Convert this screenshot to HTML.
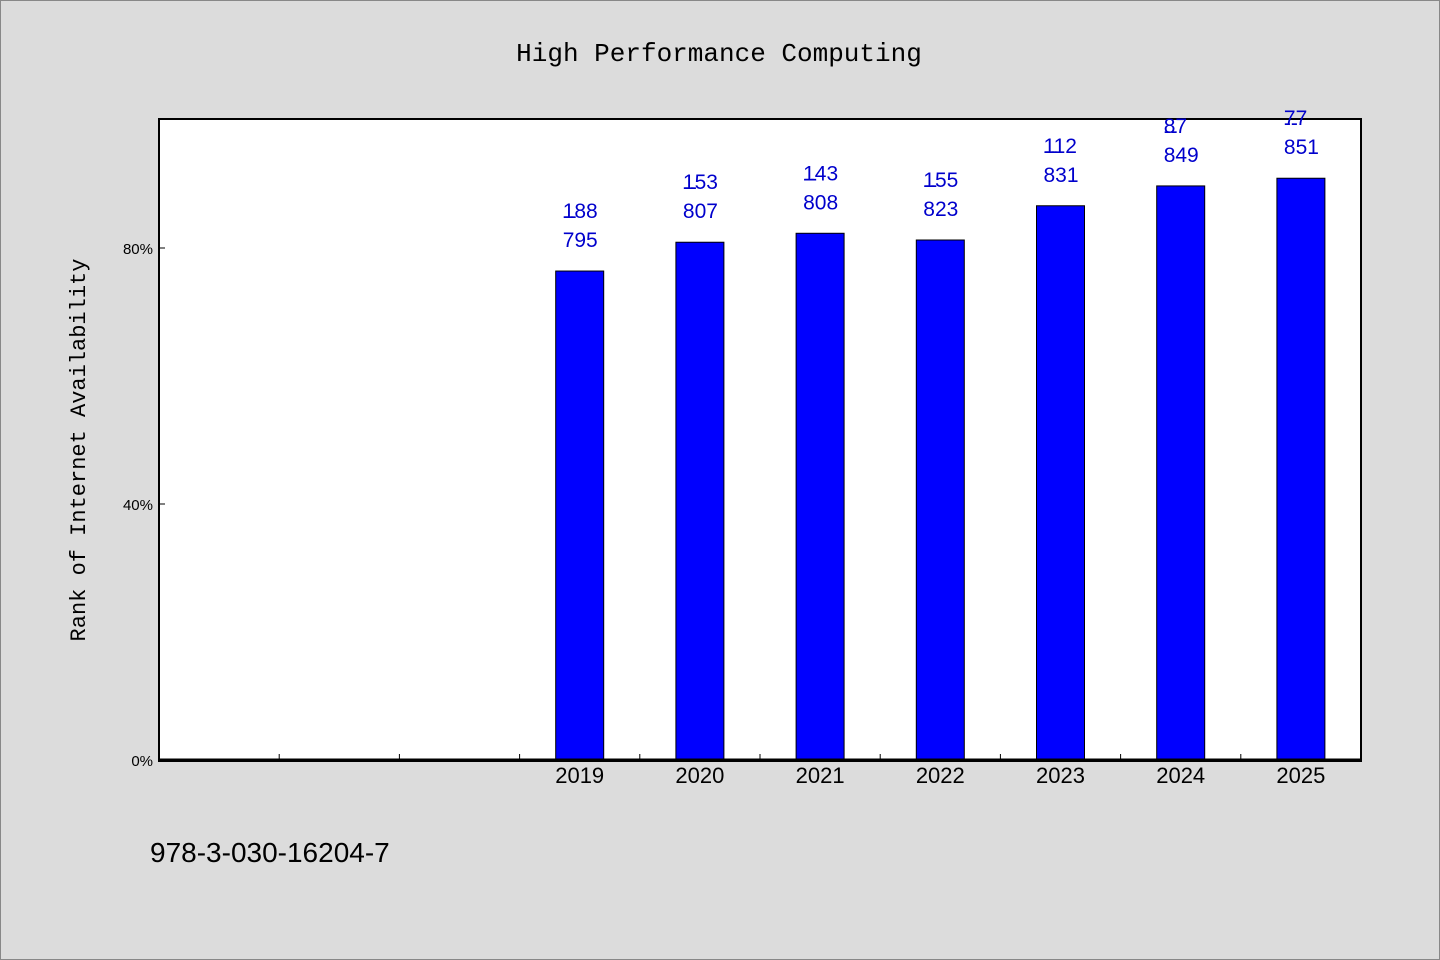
<!DOCTYPE html>
<html><head><meta charset="utf-8"><style>
html,body{margin:0;padding:0;background:#dcdcdc;}
svg{display:block;font-family:"WenQuanYi Zen Hei","Liberation Sans",sans-serif;}
</style></head><body>
<svg id="chart" width="1440" height="960" xmlns="http://www.w3.org/2000/svg">
<rect x="0.5" y="0.5" width="1439" height="959" fill="#dcdcdc" stroke="#888"/>
<text x="719" y="61" text-anchor="middle" font-size="26" font-family="'Liberation Mono',monospace">High Performance Computing</text>
<rect x="159" y="119" width="1202" height="642" fill="#fff" stroke="#000" stroke-width="2"/>
<g id="ticks"></g>
<g id="bars"></g>
<line x1="159" y1="760" x2="1361" y2="760" stroke="#000" stroke-width="3"/>
<g id="labels"></g>
<text transform="translate(85,450) rotate(-90)" text-anchor="middle" font-size="22" font-family="'Liberation Mono',monospace">Rank of Internet Availability</text>
<text x="150" y="862" font-size="28">978-3-030-16204-7</text>
</svg>
<script>
const categories = ["", "", "", "2019", "2020", "2021", "2022", "2023", "2024", "2025"];
const values = [null, null, null, 76.4, 80.9, 82.3, 81.25, 86.6, 89.7, 90.9];
const topLabels = ["", "", "", "188", "153", "143", "155", "112", "87", "77"];
const bottomLabels = ["", "", "", "795", "807", "808", "823", "831", "849", "851"];
const yTicks = [0, 40, 80];
const yTickLabels = ["0%", "40%", "80%"];

const NS = "http://www.w3.org/2000/svg";
const x0 = 159, x1 = 1361, yBase = 760, pxPerUnit = 6.4;
const slot = (x1 - x0) / categories.length;
function xCenter(i){ return x0 + slot * (i + 0.5); }
function yScale(v){ return yBase - v * pxPerUnit; }
function mk(tag, attrs, parent){ const e = document.createElementNS(NS, tag); for (const k in attrs) e.setAttribute(k, attrs[k]); parent.appendChild(e); return e; }

const ticksG = document.getElementById('ticks');
const barsG = document.getElementById('bars');
const labelsG = document.getElementById('labels');

for (let i = 1; i < categories.length; i++) {
  const x = x0 + slot * i;
  const t = mk('line', {x1: x, x2: x, y1: yBase, y2: yBase - 6, stroke: '#000', 'stroke-width': 1}, ticksG);
  
  
}
yTicks.forEach((v, i) => {
  const y = yScale(v);
  const t = mk('line', {x1: x0, x2: x0 + 6, y1: y, y2: y, stroke: '#000', 'stroke-width': 1}, ticksG);
  
  
  const l = mk('text', {x: 153, y: y + 6, 'text-anchor': 'end', 'font-size': 15}, ticksG);
  l.textContent = yTickLabels[i];
  
  
});

categories.forEach((c, i) => {
  const cx = xCenter(i);
  if (c) {
    const l = mk('text', {x: cx, y: 783, 'text-anchor': 'middle', 'font-size': 22}, labelsG);
    l.textContent = c;
    
    
  }
  const v = values[i];
  if (v == null) return;
  const top = yScale(v);
  const b = mk('rect', {x: cx - 24, y: top, width: 48, height: yBase - top, fill: '#0000ff', stroke: '#000', 'stroke-width': 1}, barsG);
  
  
  const lx = cx - 17;
  const t1 = mk('text', {x: lx, y: top - 53, 'font-size': 21, fill: '#0000cc'}, labelsG);
  t1.textContent = topLabels[i];
  
  
  const t2 = mk('text', {x: lx, y: top - 48, 'font-size': 21, fill: '#0000cc'}, labelsG);
  t2.textContent = '--';
  
  
  const t3 = mk('text', {x: lx, y: top - 24, 'font-size': 21, fill: '#0000cc'}, labelsG);
  t3.textContent = bottomLabels[i];
  
  
});
</script>
</body></html>
